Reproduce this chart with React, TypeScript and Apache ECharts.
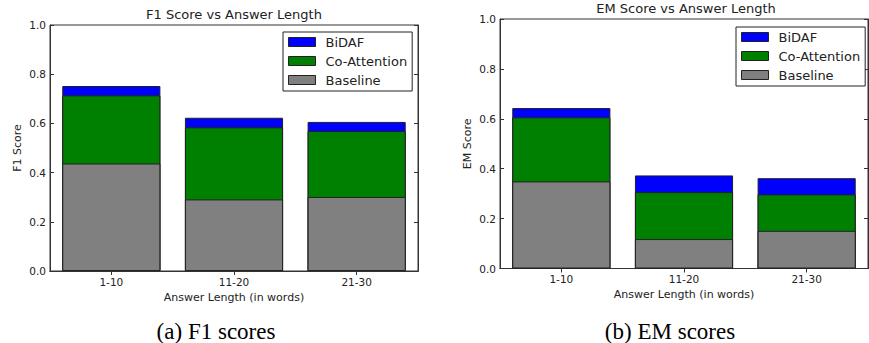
import React, { useEffect, useRef } from "react";
import * as echarts from "echarts";

const categories = ["1-10", "11-20", "21-30"];
const seriesNames = ["BiDAF", "Co-Attention", "Baseline"];
const yTicks = [0, 0.2, 0.4, 0.6, 0.8, 1.0];

// F1 scores (values read at top of each bar, bars overlaid)
const f1BiDAF = [0.752, 0.623, 0.606];
const f1CoAttention = [0.714, 0.584, 0.569];
const f1Baseline = [0.437, 0.291, 0.301];

// EM scores
const emBiDAF = [0.643, 0.373, 0.362];
const emCoAttention = [0.606, 0.306, 0.297];
const emBaseline = [0.349, 0.118, 0.151];

const titles = ["F1 Score vs Answer Length", "EM Score vs Answer Length"];
const yNames = ["F1 Score", "EM Score"];
const xName = "Answer Length (in words)";
const captions = ["(a) F1 scores", "(b) EM scores"];

const colors = ["#0000ff", "#008000", "#808080"];
const FONT = "DejaVu Sans";
const TXT = "#222";
const LINE = "#333";

export default function App() {
  const ref = useRef<HTMLDivElement>(null);
  useEffect(() => {
    if (!ref.current) return;
    const chart = echarts.init(ref.current, undefined, { renderer: "svg" });

    const grids = [
      { left: 50, top: 25, width: 368, height: 246 },
      { left: 500, top: 19, width: 368, height: 249.5 },
    ];

    const xAxes: any[] = [];
    const yAxes: any[] = [];
    grids.forEach((_, gi) => {
      xAxes.push({
        type: "category",
        gridIndex: gi,
        data: categories,
        position: "bottom",
        name: xName,
        nameLocation: "middle",
        nameGap: 19,
        nameTextStyle: { fontFamily: FONT, fontSize: 11, color: TXT },
        axisLine: { show: true, lineStyle: { color: LINE, width: 1 } },
        axisTick: { show: true, inside: true, length: 4, alignWithLabel: true, lineStyle: { color: LINE } },
        axisLabel: { fontFamily: FONT, fontSize: 10.5, color: TXT, margin: 5 },
        splitLine: { show: false },
      });
      xAxes.push({
        type: "category",
        gridIndex: gi,
        data: categories,
        position: "top",
        axisLine: { show: true, lineStyle: { color: LINE, width: 1 } },
        axisTick: { show: true, inside: true, length: 4, alignWithLabel: true, lineStyle: { color: LINE } },
        axisLabel: { show: false },
        splitLine: { show: false },
      });
      yAxes.push({
        type: "value",
        gridIndex: gi,
        min: 0,
        max: 1,
        interval: 0.2,
        position: "left",
        name: yNames[gi],
        nameLocation: "middle",
        nameGap: 27,
        nameTextStyle: { fontFamily: FONT, fontSize: 11, color: TXT },
        axisLine: { show: true, lineStyle: { color: LINE, width: 1 } },
        axisTick: { show: true, inside: true, length: 4, lineStyle: { color: LINE } },
        axisLabel: {
          fontFamily: FONT,
          fontSize: 10.5,
          color: TXT,
          margin: 4,
          formatter: (v: number) => (yTicks.some((t) => Math.abs(t - v) < 1e-9) ? v.toFixed(1) : ""),
        },
        splitLine: { show: false },
      });
      yAxes.push({
        type: "value",
        gridIndex: gi,
        min: 0,
        max: 1,
        interval: 0.2,
        position: "right",
        axisLine: { show: true, lineStyle: { color: LINE, width: 1 } },
        axisTick: { show: true, inside: true, length: 4, lineStyle: { color: LINE } },
        axisLabel: { show: false },
        splitLine: { show: false },
      });
    });

    const data = [
      [f1BiDAF, f1CoAttention, f1Baseline],
      [emBiDAF, emCoAttention, emBaseline],
    ];

    const series: any[] = [];
    data.forEach((group, gi) => {
      group.forEach((vals, si) => {
        series.push({
          type: "bar",
          name: seriesNames[si],
          xAxisIndex: gi * 2,
          yAxisIndex: gi * 2,
          data: vals,
          barWidth: "80%",
          barGap: "-100%",
          itemStyle: { color: colors[si], borderColor: "#222", borderWidth: 1 },
          emphasis: { disabled: true },
        });
      });
    });

    const legendBase = {
      orient: "vertical",
      data: seriesNames,
      icon: "rect",
      itemWidth: 27,
      itemHeight: 9,
      itemGap: 5,
      borderColor: "#222",
      borderWidth: 1,
      backgroundColor: "#fff",
      selectedMode: false,
      itemStyle: { borderColor: "#222", borderWidth: 1 },
      textStyle: { fontFamily: FONT, fontSize: 13, color: TXT, lineHeight: 14, padding: [0, 0, 0, 5] },
    };

    chart.setOption({
      animation: false,
      backgroundColor: "#fff",
      title: [
        {
          text: titles[0],
          left: 234,
          top: 8,
          padding: 0,
          textAlign: "center",
          textStyle: { fontFamily: FONT, fontSize: 13, fontWeight: "normal", color: TXT },
        },
        {
          text: titles[1],
          left: 686,
          top: 2,
          padding: 0,
          textAlign: "center",
          textStyle: { fontFamily: FONT, fontSize: 13, fontWeight: "normal", color: TXT },
        },
      ],
      legend: [
        { ...legendBase, left: 283, top: 32, padding: [3, 5, 4, 5] },
        { ...legendBase, left: 736, top: 27, padding: [3, 5, 4, 5] },
      ],
      grid: grids.map((g) => ({ ...g, show: true, borderColor: LINE, borderWidth: 1, backgroundColor: "transparent" })),
      xAxis: xAxes,
      yAxis: yAxes,
      series,
      graphic: [
        {
          type: "text",
          x: 216,
          y: 331,
          style: { text: captions[0], fontFamily: "Liberation Serif", fontSize: 23, fill: "#000", textAlign: "center", textVerticalAlign: "middle" },
        },
        {
          type: "text",
          x: 670,
          y: 331,
          style: { text: captions[1], fontFamily: "Liberation Serif", fontSize: 23, fill: "#000", textAlign: "center", textVerticalAlign: "middle" },
        },
      ],
    });
    return () => chart.dispose();
  }, []);
  return <div ref={ref} style={{ position: "absolute", left: 0, top: 0, width: 869, height: 343 }} />;
}
